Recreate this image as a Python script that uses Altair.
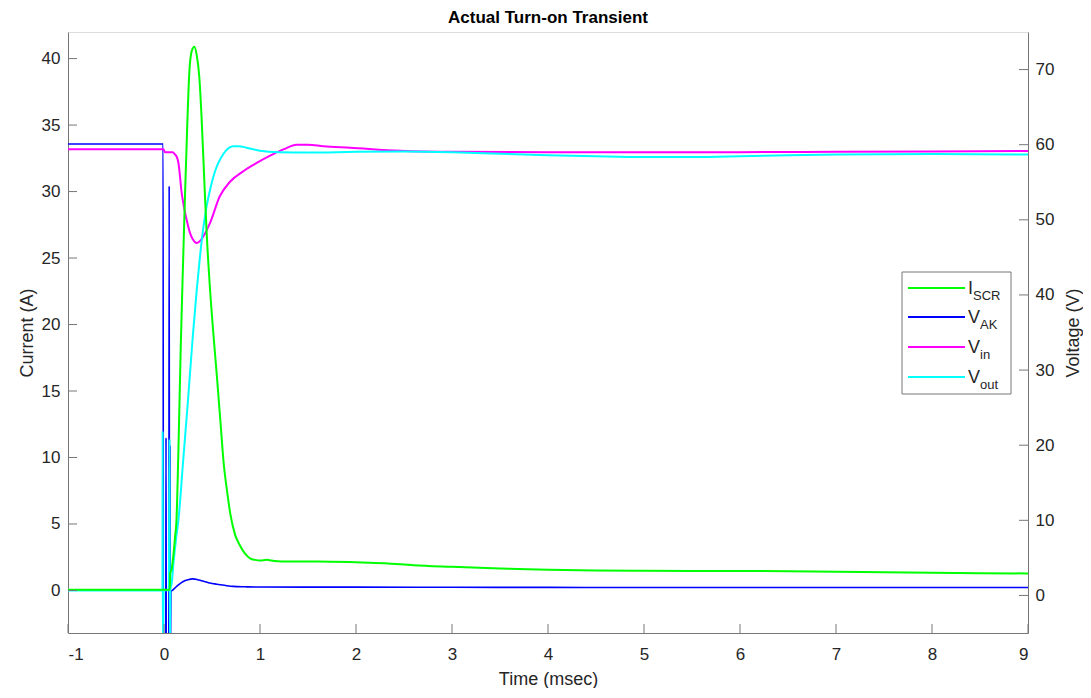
import altair as alt
import pandas as pd

# ---------------- data ----------------
t_iscr = [-1.0, -0.5, 0.0, 0.06, 0.065, 0.08, 0.1, 0.115, 0.13, 0.15, 0.175, 0.2, 0.22, 0.24,
          0.264, 0.29, 0.316, 0.34, 0.368, 0.39, 0.42, 0.445, 0.48, 0.52, 0.55, 0.59, 0.62,
          0.66, 0.69, 0.74, 0.79, 0.84, 0.9, 0.95, 1.0, 1.07, 1.15, 1.3, 1.6, 2.0, 2.3, 2.6,
          3.0, 3.5, 4.0, 4.5, 5.0, 5.5, 6.0, 6.5, 7.0, 7.5, 8.0, 8.5, 9.0]
i_scr = [0.05, 0.05, 0.05, 0.05, 1.3, 1.6, 2.8, 4.0, 5.3, 10.5, 18.5, 25.0, 30.0, 34.5,
         39.0, 40.6, 40.9, 40.3, 38.6, 35.8, 30.8, 26.8, 22.6, 18.8, 16.2, 12.5, 9.7,
         7.3, 5.8, 4.2, 3.4, 2.8, 2.4, 2.3, 2.25, 2.3, 2.22, 2.18, 2.18, 2.12, 2.05, 1.9,
         1.78, 1.65, 1.55, 1.5, 1.48, 1.47, 1.47, 1.45, 1.4, 1.37, 1.33, 1.3, 1.28]

t_vak = [-1.0, -0.009, -0.007, 0.018, 0.021, 0.024, 0.05, 0.054, 0.057, 0.06, 0.063, 0.067,
         0.072, 0.09, 0.115, 0.15, 0.2, 0.25, 0.3, 0.35, 0.39, 0.44, 0.48, 0.55, 0.63, 0.72,
         0.85, 0.97, 1.5, 2.0, 3.0, 4.0, 5.0, 6.0, 7.0, 8.0, 9.0]
v_ak = [60.1, 60.1, -8, -8, 21, -8, -8, 54.5, -8, -8, 20, -8,
        0.5, 0.7, 1.0, 1.4, 1.86, 2.1, 2.2, 2.1, 1.96, 1.8, 1.65, 1.5, 1.35, 1.2,
        1.15, 1.12, 1.1, 1.1, 1.08, 1.07, 1.05, 1.05, 1.05, 1.05, 1.05]

t_vin = [-1.0, -0.5, -0.005, 0.01, 0.09, 0.115, 0.135, 0.15, 0.165, 0.18, 0.2, 0.22, 0.245,
         0.27, 0.3, 0.34, 0.37, 0.41, 0.48, 0.58, 0.69, 0.83, 0.97, 1.1, 1.25, 1.38, 1.5,
         1.66, 1.94, 2.46, 3.0, 4.0, 5.0, 6.0, 7.0, 8.0, 9.0]
v_in = [59.4, 59.4, 59.4, 59.0, 59.0, 58.7, 58.3, 57.6, 56.0, 54.0, 52.3, 50.9, 49.5,
        48.3, 47.4, 46.9, 47.1, 47.8, 49.6, 53.1, 55.1, 56.5, 57.6, 58.5, 59.4, 60.0, 60.0,
        59.8, 59.6, 59.2, 59.05, 59.0, 59.0, 59.0, 59.05, 59.1, 59.15]

t_vout = [-1.0, -0.5, -0.016, -0.014, -0.012, -0.004, 0.05, 0.058, 0.061, 0.066, 0.08, 0.1,
          0.125, 0.15, 0.2, 0.25, 0.3, 0.34, 0.37, 0.4, 0.44, 0.48, 0.52, 0.56, 0.62, 0.68,
          0.72, 0.78, 0.86, 1.0, 1.2, 1.5, 2.0, 2.5, 3.0, 3.5, 4.0, 4.5, 5.0, 5.5, 6.0, 6.5,
          7.0, 8.0, 9.0]
v_out = [0.67, 0.67, 0.67, 21.9, -8, 0.7, 0.7, 20.8, -8, 0.8, 1.6, 4.5,
         7.5, 10.0, 18.0, 26.0, 34.5, 40.5, 44.5, 48.0, 51.5, 54.0, 56.0, 57.4, 58.8, 59.6,
         59.8, 59.8, 59.6, 59.2, 59.0, 58.95, 59.05, 59.1, 59.0, 58.8, 58.6, 58.45, 58.35,
         58.35, 58.45, 58.6, 58.7, 58.75, 58.7]

series_main = ["I", "V", "V", "V"]
series_sub = ["SCR", "AK", "in", "out"]
series_colors = ["#00ff00", "#0000ff", "#ff00ff", "#00ffff"]

x_ticks = [-1, 0, 1, 2, 3, 4, 5, 6, 7, 8, 9]
left_ticks = [0, 5, 10, 15, 20, 25, 30, 35, 40]
right_ticks = [0, 10, 20, 30, 40, 50, 60, 70]

x_domain = [-1, 9]
left_domain = [-3.2, 42]
right_domain = [-5, 75]

# ---------------- styling ----------------
W, H = 960, 601
FONT = "Liberation Sans"
AXC = "#767676"
TXT = "#262626"
TICK = 9

x_scale = alt.Scale(domain=x_domain, nice=False, zero=False)
l_scale = alt.Scale(domain=left_domain, nice=False, zero=False)
r_scale = alt.Scale(domain=right_domain, nice=False, zero=False)

x_axis = alt.Axis(values=x_ticks, labelExpr="'' + datum.value", ticks=False, tickSize=0,
                  grid=False, domainColor=AXC, domainWidth=1, labelFont=FONT,
                  labelFontSize=17, labelColor=TXT, labelPadding=13, title="Time (msec)",
                  titleFont=FONT, titleFontSize=18, titleFontWeight="normal",
                  titleColor=TXT, titlePadding=8)
l_axis = alt.Axis(orient="left", values=left_ticks, ticks=False, tickSize=0, grid=False,
                  domainColor=AXC, domainWidth=1, labelFont=FONT, labelFontSize=17,
                  labelColor=TXT, labelPadding=8, title="Current (A)", titleFont=FONT,
                  titleFontSize=18, titleFontWeight="normal", titleColor=TXT,
                  titlePadding=5)
r_axis = alt.Axis(orient="right", values=right_ticks, ticks=False, tickSize=0, grid=False,
                  domainColor=AXC, domainWidth=1, labelFont=FONT, labelFontSize=17,
                  labelColor=TXT, labelPadding=7, title="Voltage (V)", titleFont=FONT,
                  titleFontSize=18, titleFontWeight="normal", titleColor=TXT,
                  titlePadding=11, titleAngle=270, titleBaseline="top")


def line(ts, vs, color, scale, axis, width=2.0):
    df = pd.DataFrame({"t": ts, "v": vs})
    return alt.Chart(df).mark_line(color=color, strokeWidth=width, clip=True,
                                   interpolate="monotone").encode(
        x=alt.X("t:Q", scale=x_scale, axis=x_axis),
        y=alt.Y("v:Q", scale=scale, axis=axis),
    )


# voltage layer (right axis)
v_lines = [
    line(t_vak, v_ak, series_colors[1], r_scale, r_axis, 1.6),
    line(t_vin, v_in, series_colors[2], r_scale, r_axis),
    line(t_vout, v_out, series_colors[3], r_scale, r_axis),
]
r_tick_layer = alt.Chart(pd.DataFrame({"v": right_ticks})).mark_rule(
    color=AXC, strokeWidth=1).encode(
    y=alt.Y("v:Q", scale=r_scale, axis=r_axis),
    x=alt.value(W - TICK), x2=alt.value(W))
volt_layer = alt.layer(*v_lines, r_tick_layer)

# current layer (left axis) + ticks + legend
i_line = line(t_iscr, i_scr, series_colors[0], l_scale, l_axis)
l_tick_layer = alt.Chart(pd.DataFrame({"v": left_ticks})).mark_rule(
    color=AXC, strokeWidth=1).encode(
    y=alt.Y("v:Q", scale=l_scale, axis=l_axis),
    x=alt.value(0), x2=alt.value(TICK))
x_tick_layer = alt.Chart(pd.DataFrame({"t": x_ticks})).mark_rule(
    color=AXC, strokeWidth=1).encode(
    x=alt.X("t:Q", scale=x_scale, axis=x_axis),
    y=alt.value(H - TICK), y2=alt.value(H))

one = pd.DataFrame({"k": [0]})
legend_parts = [
    alt.Chart(one).mark_rect(fill="white", stroke=AXC, strokeWidth=1).encode(
        x=alt.value(834), x2=alt.value(943), y=alt.value(240), y2=alt.value(362))
]
row_y = [256, 285, 315, 345]
sub_dx = [5, 12, 12, 12]
for k in range(4):
    yy = row_y[k]
    legend_parts.append(
        alt.Chart(one).mark_rule(color=series_colors[k], strokeWidth=2).encode(
            x=alt.value(840), x2=alt.value(897), y=alt.value(yy)))
    legend_parts.append(
        alt.Chart(one).mark_text(text=series_main[k], font=FONT, fontSize=18, color=TXT,
                                 align="left", baseline="alphabetic").encode(
            x=alt.value(900), y=alt.value(yy + 6)))
    legend_parts.append(
        alt.Chart(one).mark_text(text=series_sub[k], font=FONT, fontSize=13, color=TXT,
                                 align="left", baseline="alphabetic").encode(
            x=alt.value(900 + sub_dx[k]), y=alt.value(yy + 12)))

cur_layer = alt.layer(i_line, l_tick_layer, x_tick_layer, *legend_parts)

chart = alt.layer(volt_layer, cur_layer).resolve_scale(y="independent").properties(
    width=W, height=H,
    title=alt.TitleParams("Actual Turn-on Transient", font=FONT, fontSize=17,
                          fontWeight="bold", color="#000000", offset=5),
    padding={"left": 10, "top": 1, "right": 0, "bottom": 0},
).configure_view(stroke=None).configure(background="white")

chart.save("out.html", embed_options={"renderer": "svg", "actions": False})
